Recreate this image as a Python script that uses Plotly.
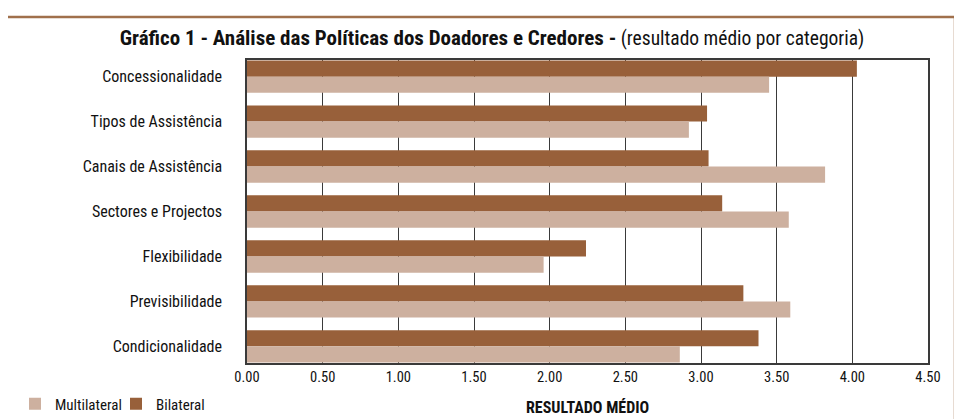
import plotly.graph_objects as go

categories = ["Concessionalidade", "Tipos de Assistência", "Canais de Assistência",
              "Sectores e Projectos", "Flexibilidade", "Previsibilidade", "Condicionalidade"]
bilateral = [4.03, 3.04, 3.05, 3.14, 2.24, 3.28, 3.38]
multilateral = [3.45, 2.92, 3.82, 3.58, 1.96, 3.59, 2.86]
x_ticks = [0, 0.5, 1, 1.5, 2, 2.5, 3, 3.5, 4, 4.5]
x_ticktext = ["0.00", "0.50", "1.00", "1.50", "2.00", "2.50", "3.00", "3.50", "4.00", "4.50"]
x_title = "RESULTADO MÉDIO"

FONT = "Roboto Condensed, Liberation Sans Narrow, sans-serif"
C_BIL = "#98603A"
C_MUL = "#CDB09F"

fig = go.Figure()
fig.add_trace(go.Bar(y=categories, x=bilateral, orientation="h", name="Bilateral",
                     marker=dict(color=C_BIL, line=dict(width=0)), legendrank=2))
fig.add_trace(go.Bar(y=categories, x=multilateral, orientation="h", name="Multilateral",
                     marker=dict(color=C_MUL, line=dict(width=0)), legendrank=1))

# page body has an 8px margin: figure pixel = screen pixel - 8
OFF = 8
W, H = 962 - OFF, 419 - OFF
L, T = 247 - OFF, 60 - OFF
pw, ph = 681, 303
R, B = W - L - pw, H - T - ph

def px_x(p):
    return (p - OFF - L) / pw

def px_y(p):
    return (T + ph - (p - OFF)) / ph

fig.update_layout(
    width=W, height=H,
    margin=dict(l=L, r=R, t=T, b=B, autoexpand=False),
    paper_bgcolor="white", plot_bgcolor="white",
    barmode="group", bargap=0.28, bargroupgap=0,
    font=dict(family=FONT, size=15, color="#111111"),
    title=dict(
        text="<b><span style='font-size:21px'>Gráfico 1 - Análise das Políticas dos Doadores e Credores -</span></b>"
             "<span style='font-size:19.5px'> (resultado médio por categoria)</span>",
        x=(492 - OFF) / W, xanchor="center", xref="container",
        y=1 - (38 - OFF) / H, yanchor="middle", yref="container",
        font=dict(family=FONT, size=20, color="#111111")),
    xaxis=dict(range=[0, 4.5], tickvals=x_ticks, ticktext=x_ticktext, automargin=False,
               showgrid=True, gridcolor="#3a3a3a", gridwidth=1,
               showline=True, mirror=True, linecolor="#3a3a3a", linewidth=1.5,
               zeroline=False, ticks="", tickfont=dict(size=14.5)),
    yaxis=dict(range=[6.37, -0.37], showgrid=False, showline=True, mirror=True, automargin=False,
               linecolor="#3a3a3a", linewidth=1.5, ticks="", ticklabelstandoff=20,
               tickfont=dict(size=16)),
    legend=dict(orientation="h", xref="container", yref="container",
                x=(15 - OFF) / W, xanchor="left", y=1 - (404 - OFF) / H, yanchor="middle",
                font=dict(size=15), bgcolor="rgba(0,0,0,0)", itemwidth=30, entrywidth=56),
    annotations=[dict(text=f"<b>{x_title}</b>", xref="paper", yref="paper",
                      x=0.5, y=px_y(407), xanchor="center", yanchor="middle",
                      showarrow=False, font=dict(family=FONT, size=16, color="#111111"))],
    shapes=[dict(type="path", xref="paper", yref="paper",
                 path=f"M {px_x(6)},{px_y(440)} L {px_x(6)},{px_y(17)} L {px_x(955)},{px_y(17)} L {px_x(955)},{px_y(440)}",
                 line=dict(color="#A0704C", width=2.5))],
)

fig.write_html("out.html")
